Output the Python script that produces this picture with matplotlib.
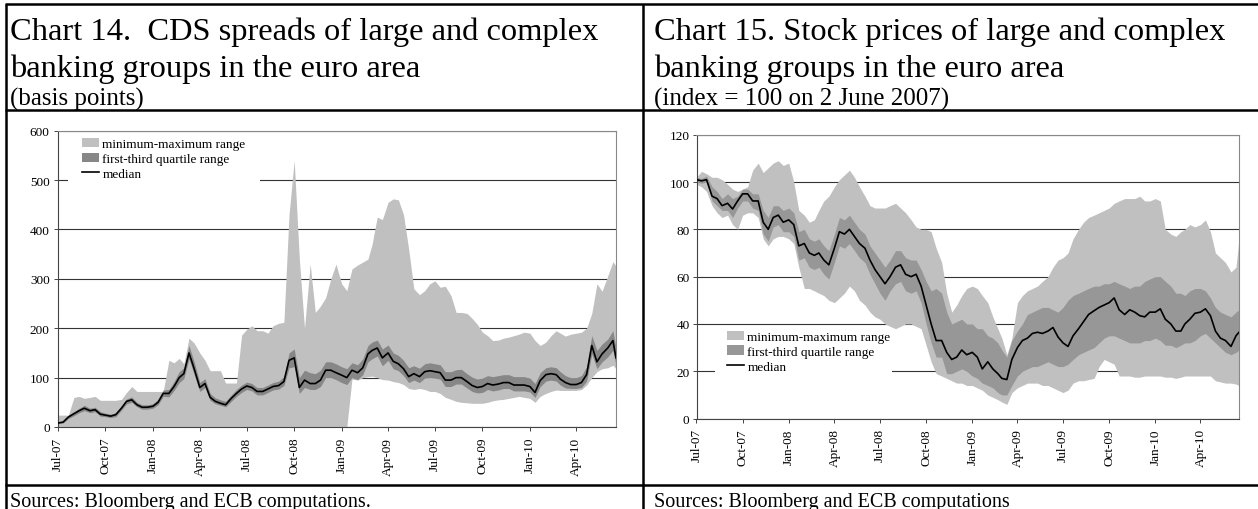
import matplotlib
matplotlib.use('Agg')
import matplotlib.pyplot as plt
import matplotlib.dates as mdates
from matplotlib.patches import Patch, Rectangle
from matplotlib.lines import Line2D
import pandas as pd

plt.rcParams['font.family'] = ['Liberation Serif', 'DejaVu Serif']

# ---------------- data ----------------
# sample dates: 1st, 11th, 21st of each month, Jul 2007 - mid Jun 2010
months = pd.date_range('2007-07-01', '2010-06-01', freq='MS')
dates = [m + pd.Timedelta(days=d) for m in months for d in (0, 10, 20)]
dates = dates[:-1] + [pd.Timestamp('2010-06-17')]

x_ticks_months = [1, 4, 7, 10]

# Chart 14: CDS spreads (basis points)
cds_min = [0, 0, 0, 0, 0, 0, 0, 0, 0, 0, 0, 0, 0, 0, 0, 0, 0, 0,
           0, 0, 0, 0, 0, 0, 0, 0, 0, 0, 0, 0, 0, 0, 0, 0, 0, 0,
           0, 0, 0, 0, 0, 0, 0, 0, 0, 0, 0, 0, 0, 0, 0, 0, 0, 0,
           0, 0, 97, 95, 100, 102, 103, 100, 96, 95, 92, 90, 86, 78, 76, 78, 76, 72,
           72, 68, 60, 56, 52, 50, 49, 48, 48, 48, 50, 53, 55, 56, 58, 60, 62, 60,
           58, 50, 62, 68, 72, 75, 74, 74, 74, 74, 76, 85, 100, 112, 118, 120, 125, 118]
cds_q1 = [7, 8, 17, 23, 29, 33, 29, 31, 22, 21, 19, 21, 34, 47, 50, 41, 36, 36,
          38, 45, 62, 61, 74, 90, 98, 138, 106, 72, 80, 54, 47, 44, 41, 52, 62, 70,
          76, 73, 65, 65, 70, 75, 77, 84, 120, 122, 68, 80, 76, 76, 82, 100, 100, 96,
          90, 86, 100, 96, 106, 132, 138, 144, 124, 135, 118, 114, 104, 90, 95, 90, 99, 100,
          99, 97, 82, 82, 87, 87, 79, 72, 69, 70, 76, 73, 75, 78, 78, 73, 73, 73,
          71, 60, 82, 93, 95, 93, 85, 79, 78, 78, 80, 93, 148, 118, 132, 142, 155, 125]
cds_median = [8, 10, 20, 27, 33, 38, 33, 35, 26, 24, 22, 25, 38, 52, 55, 45, 40, 40,
              42, 50, 68, 68, 82, 100, 108, 150, 118, 80, 88, 60, 52, 48, 45, 58, 68, 77,
              83, 80, 72, 72, 77, 82, 84, 92, 135, 140, 80, 95, 88, 88, 95, 115, 115, 110,
              105, 100, 115, 110, 120, 148, 155, 160, 140, 150, 133, 128, 118, 102, 108, 102, 112, 114,
              112, 110, 95, 95, 100, 100, 92, 84, 80, 82, 88, 85, 87, 90, 90, 85, 85, 85,
              82, 70, 94, 106, 108, 106, 97, 90, 86, 86, 90, 106, 165, 132, 148, 160, 175, 140]
cds_q3 = [9, 13, 24, 31, 38, 44, 38, 40, 31, 28, 26, 29, 43, 57, 61, 50, 45, 45,
          47, 56, 75, 76, 92, 112, 120, 165, 132, 90, 98, 68, 59, 55, 52, 65, 76, 85,
          91, 88, 80, 80, 85, 90, 93, 102, 150, 158, 100, 115, 110, 108, 115, 132, 132, 128,
          122, 118, 130, 126, 138, 165, 172, 176, 158, 166, 150, 145, 135, 120, 124, 119, 128, 130,
          128, 126, 112, 112, 116, 117, 108, 101, 97, 99, 104, 102, 104, 106, 106, 102, 102, 102,
          99, 88, 110, 120, 122, 120, 112, 104, 100, 100, 104, 122, 185, 155, 168, 178, 195, 160]
cds_max = [24, 24, 24, 60, 62, 58, 60, 62, 54, 54, 54, 54, 56, 70, 82, 72, 72, 72,
           72, 72, 72, 135, 130, 139, 128, 180, 170, 150, 135, 114, 114, 114, 89, 89, 89, 186,
           198, 205, 195, 195, 190, 205, 210, 212, 430, 540, 340, 200, 330, 232, 245, 262, 300, 330,
           290, 276, 320, 328, 334, 340, 370, 425, 420, 455, 462, 460, 430, 360, 280, 268, 276, 290,
           296, 283, 285, 266, 232, 232, 230, 220, 208, 192, 185, 175, 176, 180, 182, 185, 188, 192,
           190, 175, 165, 172, 185, 195, 190, 184, 188, 190, 192, 200, 230, 290, 275, 306, 335, 326]

# Chart 15: stock prices (index = 100 on 2 June 2007)
stk_min = [99, 98, 96, 90, 87, 85, 86, 82, 80, 86, 87, 87, 85, 76, 73, 76, 77, 77,
           76, 74, 64, 55, 55, 54, 53, 52, 50, 49, 51, 53, 56, 54, 50, 48, 45, 43,
           42, 40, 39, 38, 39, 40, 40, 39, 38, 31, 24, 19, 18, 17, 16, 15, 15, 14,
           14, 13, 12, 10, 9, 8, 7, 6, 11, 13, 14, 15, 15, 15, 14, 14, 13, 12,
           11, 12, 15, 16, 16, 16.5, 17, 22, 25, 24, 23, 18, 18, 18, 17.5, 17.5, 18, 18,
           18, 18, 17.5, 17.5, 17, 17.5, 18, 18, 18, 18, 18, 18, 16, 15.5, 15, 15, 14.6, 14]
stk_q1 = [100, 99.5, 100, 92, 90, 88, 88, 85, 89, 92, 92, 89, 88, 78, 75, 81, 82, 79,
          79, 77, 67, 68, 64, 63, 64, 61, 59, 66, 73, 72, 74, 71, 68, 66, 61, 57,
          53, 50, 54, 57, 58, 54, 53, 54, 49, 40, 32, 26, 26, 19, 19, 20, 21, 20,
          18, 17, 15, 14, 13, 11, 10, 10, 14, 18, 20, 21, 22, 22, 23, 24, 23, 22,
          22, 23, 25, 27, 28, 29, 30, 32, 34, 35, 35, 34, 33, 32, 32, 32, 33, 33,
          34, 33, 31, 31, 30, 31, 32, 32, 33, 35, 36, 34, 32, 30, 28, 27, 28, 29]
stk_median = [101, 100.5, 101, 94, 93, 90, 91, 88.6, 92, 95, 95, 92, 92, 83, 80, 85, 86, 83,
              84, 82, 73, 74, 70, 69, 70, 67, 65, 72, 79, 78, 80, 77, 74, 72, 67, 63,
              60, 57, 60, 64, 65, 61, 60, 61, 56, 48, 40, 33, 33, 28, 25, 26, 29, 27,
              28, 26, 21, 24, 21, 19, 17, 16.5, 25, 30, 33, 34, 36, 36.5, 36, 37, 38.5, 34.5,
              32, 30.5, 35, 38, 41, 44, 45.6, 47, 48, 49, 51, 46, 44, 46, 45, 43.5, 43, 45,
              45, 46.4, 42, 40, 37, 37, 40, 42, 44.5, 45, 46.4, 43.5, 37, 34, 33, 30.5, 35, 36.5]
stk_q3 = [102, 101.5, 102.5, 98, 96, 93, 95, 93, 94, 97, 97, 95, 95, 88, 85, 90, 90, 88,
          89, 87, 79, 80, 76, 75, 76, 73, 71, 78, 85, 84, 86, 83, 80, 78, 73, 70,
          67, 64, 67, 71, 71, 68, 67, 67, 63, 58, 54, 55, 53, 45, 40, 41, 42, 40,
          40, 38, 38, 35, 34, 32, 29, 26, 33, 37, 40, 44, 45, 46, 47, 47, 46, 45,
          47, 50, 52, 53, 54, 55, 56, 56, 57, 57, 58, 57, 56, 55, 56, 56, 58, 59,
          60, 60, 58, 56, 53, 53, 52, 54, 55, 55, 54, 51, 47, 45, 44, 43, 45, 46]
stk_max = [102, 104.5, 103.5, 102, 102, 101, 99, 97, 96, 97, 98, 105, 108, 104, 106, 108, 109, 107,
           108, 100, 88, 86, 83, 84, 88, 92, 94, 98, 101, 103, 105, 102, 98, 94, 90, 89,
           89, 89, 90, 91, 89, 87, 84, 81, 80, 80, 79, 72, 66, 53, 45, 48, 52, 55,
           56, 55, 52, 49, 43, 38, 34, 27, 34, 49, 52, 54, 55, 56, 58, 60, 64, 67,
           68, 70, 76, 80, 83, 85, 86, 87, 88, 89, 91, 92, 93, 93, 93, 94, 92, 92,
           93, 92, 80, 78, 77, 79, 80, 82, 81, 82, 84, 79, 70, 68, 66, 62, 64, 76]

legend_labels = ['minimum-maximum range', 'first-third quartile range', 'median']

# ---------------- layout ----------------
W, H = 1258, 510
fig = plt.figure(figsize=(W / 100, H / 100), dpi=100)


def fx(px):
    return px / W


def fy(py):
    return 1 - py / H


def frame_line(x0, y0, x1, y1, lw=1.8):
    fig.add_artist(Line2D([fx(x0), fx(x1)], [fy(y0), fy(y1)], transform=fig.transFigure,
                          color='black', lw=lw, solid_capstyle='butt'))


frame_line(5, 5, 1258, 5)
frame_line(6, 5, 6, 510)
frame_line(643, 5, 643, 510)
frame_line(5, 111, 1258, 111)
frame_line(5, 486, 1258, 486)

TFS, SFS, RFS = 23.4, 18, 14.5
fig.text(fx(10), fy(40), 'Chart 14.  CDS spreads of large and complex', fontsize=TFS, va='baseline')
fig.text(fx(10), fy(77), 'banking groups in the euro area', fontsize=TFS, va='baseline')
fig.text(fx(10), fy(106), '(basis points)', fontsize=SFS, va='baseline')
fig.text(fx(654), fy(40), 'Chart 15. Stock prices of large and complex', fontsize=TFS, va='baseline')
fig.text(fx(654), fy(77), 'banking groups in the euro area', fontsize=TFS, va='baseline')
fig.text(fx(654), fy(106), '(index = 100 on 2 June 2007)', fontsize=SFS, va='baseline')
fig.text(fx(10), fy(507), 'Sources: Bloomberg and ECB computations.', fontsize=RFS, va='baseline')
fig.text(fx(654), fy(507), 'Sources: Bloomberg and ECB computations', fontsize=RFS, va='baseline')

ax1 = fig.add_axes([fx(58), fy(428), (616 - 58) / W, (428 - 131.7) / H])
ax2 = fig.add_axes([fx(696.5), fy(419.6), (1239 - 696.5) / W, (419.6 - 135.7) / H])


def draw(ax, lo, q1, med, q3, hi, ymax, ystep, light, dark, ypad, leg_anchor, rect):
    ax.fill_between(dates, lo, hi, color=light, lw=0, zorder=2)
    ax.fill_between(dates, q1, q3, color=dark, lw=0, zorder=2.2)
    ax.plot(dates, med, color='black', lw=1.2, zorder=3)
    ax.set_ylim(0, ymax)
    ax.set_yticks(range(0, ymax + 1, ystep))
    ax.set_xlim(dates[0], dates[-1])
    ax.xaxis.set_major_locator(mdates.MonthLocator(bymonth=x_ticks_months))
    ax.xaxis.set_major_formatter(mdates.DateFormatter('%b-%y'))
    ax.tick_params(axis='x', labelrotation=90, labelsize=9.5, length=3, width=0.7,
                   pad=4, color='#444444')
    ax.tick_params(axis='y', labelsize=9.5, length=3, width=0.7, pad=ypad, color='#444444')
    ax.grid(axis='y', color='#333333', lw=0.8)
    ax.set_axisbelow(True)
    for s in ('left', 'bottom'):
        ax.spines[s].set_color('#444444')
        ax.spines[s].set_linewidth(0.8)
    for s in ('top', 'right'):
        ax.spines[s].set_color('#888888')
        ax.spines[s].set_linewidth(0.8)
    ax.add_patch(Rectangle((rect[0], rect[1]), rect[2], rect[3], transform=ax.transAxes,
                           facecolor='white', edgecolor='none', zorder=1))
    handles = [Patch(facecolor=light, edgecolor='none', label=legend_labels[0]),
               Patch(facecolor=dark, edgecolor='none', label=legend_labels[1]),
               Line2D([], [], color='black', lw=1.2, label=legend_labels[2])]
    ax.legend(handles=handles, loc='upper left', bbox_to_anchor=leg_anchor, frameon=False,
              fontsize=9.5, handlelength=1.3, handleheight=0.7, handletextpad=0.25,
              labelspacing=0.2, borderpad=0, borderaxespad=0)


draw(ax1, cds_min, cds_q1, cds_median, cds_q3, cds_max, 600, 100, '#C0C0C0', '#878787', 3,
     (0.043, 0.975), (0.018, 0.80, 0.344, 0.17))
draw(ax2, stk_min, stk_q1, stk_median, stk_q3, stk_max, 120, 20, '#C0C0C0', '#979797', 2,
     (0.056, 0.31), (0.034, 0.132, 0.326, 0.184))

fig.savefig('out.png', dpi=100)
